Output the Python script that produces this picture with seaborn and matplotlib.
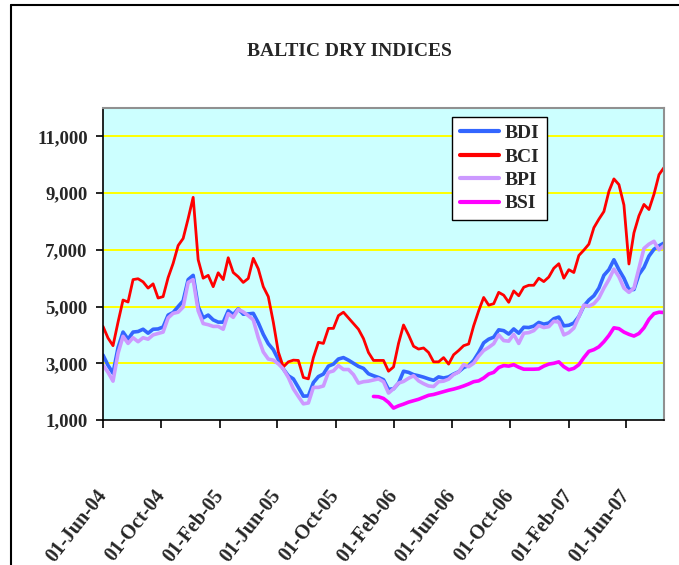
import numpy as np
import pandas as pd
import seaborn as sns
import matplotlib.pyplot as plt
import matplotlib.dates as mdates
from matplotlib.lines import Line2D
from matplotlib.ticker import StrMethodFormatter

sns.set_theme(style="ticks")
plt.rcParams['font.family'] = ['Liberation Serif', 'DejaVu Serif']
plt.rcParams['font.weight'] = 'bold'

# sample dates, roughly every 10.5 days from Jun 2004 to mid Aug 2007
dates = pd.date_range("2004-06-01", "2007-08-19", periods=113)

bdi = [3290, 2930, 2650, 3550, 4100, 3850, 4100, 4120, 4200, 4060,
       4200, 4210, 4280, 4700, 4790, 5000, 5200, 5950, 6100, 5000,
       4600, 4700, 4530, 4450, 4450, 4850, 4720, 4920, 4730, 4740,
       4760, 4430, 4020, 3690, 3480, 3130, 2800, 2560, 2450, 2150,
       1840, 1850, 2320, 2530, 2620, 2900, 2970, 3150, 3200, 3110,
       3000, 2890, 2820, 2630, 2560, 2500, 2420, 2080, 2100, 2300,
       2720, 2680, 2600, 2560, 2510, 2450, 2400, 2520, 2480, 2520,
       2620, 2700, 2850, 2920, 3100, 3380, 3720, 3850, 3920, 4180,
       4150, 4030, 4210, 4060, 4270, 4260, 4310, 4440, 4380, 4420,
       4570, 4630, 4320, 4340, 4420, 4650, 5020, 5230, 5380, 5650,
       6100, 6300, 6650, 6300, 6000, 5600, 5600, 6130, 6380, 6780,
       7020, 7140, 7240]

bci = [4300, 3890, 3620, 4450, 5230, 5160, 5950, 5980, 5870, 5650,
       5800, 5300, 5350, 6020, 6520, 7150, 7400, 8100, 8850, 6650,
       6000, 6100, 5700, 6190, 5950, 6720, 6200, 6050, 5850, 5990,
       6700, 6330, 5700, 5350, 4450, 3400, 2870, 3050, 3110, 3100,
       2500, 2450, 3200, 3740, 3700, 4230, 4230, 4680, 4800, 4600,
       4400, 4200, 3870, 3380, 3100, 3100, 3100, 2720, 2870, 3700,
       4350, 4000, 3600, 3500, 3540, 3380, 3050, 3050, 3200, 2970,
       3300, 3450, 3620, 3680, 4320, 4850, 5320, 5050, 5100, 5500,
       5400, 5150, 5550, 5380, 5680, 5750, 5750, 6000, 5880, 6040,
       6350, 6510, 6000, 6300, 6200, 6800, 6990, 7200, 7780, 8080,
       8350, 9060, 9500, 9300, 8580, 6500, 7600, 8200, 8600, 8420,
       8960, 9650, 9900]

bpi = [2940, 2680, 2370, 3350, 3950, 3700, 3900, 3760, 3900, 3850,
       4000, 4050, 4100, 4600, 4760, 4800, 4980, 5850, 5950, 4850,
       4400, 4360, 4300, 4300, 4200, 4750, 4620, 4900, 4810, 4680,
       4530, 3900, 3400, 3150, 3110, 2980, 2800, 2500, 2100, 1830,
       1570, 1600, 2150, 2150, 2200, 2680, 2730, 2920, 2780, 2780,
       2600, 2300, 2350, 2370, 2410, 2450, 2350, 1950, 2100, 2300,
       2360, 2470, 2560, 2380, 2280, 2200, 2180, 2350, 2370, 2440,
       2600, 2690, 2960, 2880, 3000, 3250, 3450, 3560, 3690, 4000,
       3800, 3780, 4020, 3700, 4060, 4080, 4150, 4330, 4260, 4290,
       4480, 4450, 4000, 4080, 4240, 4640, 5050, 5010, 5100, 5300,
       5650, 5950, 6320, 6050, 5650, 5500, 5650, 6350, 7050, 7200,
       7300, 7000, 7150]

# BSI only published from mid 2005
bsi = [np.nan] * 54 + [
    1830, 1820, 1760, 1620, 1420, 1500,
    1560, 1630, 1680, 1730, 1800, 1870, 1900, 1950, 2000, 2050,
    2090, 2140, 2200, 2270, 2350, 2380, 2480, 2620, 2680, 2850,
    2920, 2900, 2950, 2860, 2790, 2790, 2790, 2800, 2900, 2970,
    3000, 3050, 2880, 2770, 2820, 2950, 3200, 3420, 3480, 3580,
    3760, 3980, 4250, 4220, 4100, 4020, 3960, 4050, 4250, 4550,
    4750, 4800, 4790]

df = pd.DataFrame({'date': dates, 'BDI': bdi, 'BCI': bci, 'BPI': bpi, 'BSI': bsi})

series = [('BDI', '#3366FF', 2.6), ('BCI', '#FF0000', 2.0),
          ('BPI', '#CC99FF', 2.6), ('BSI', '#FF00FF', 2.6)]

fig = plt.figure(figsize=(6.79, 5.65), dpi=100)
ax = fig.add_axes([103/679, 145/565, 561/679, 312/565])
ax.set_facecolor('#CCFFFF')

for name, col, lw in series:
    sub = df[['date', name]].dropna()
    sns.lineplot(data=sub, x='date', y=name, color=col, linewidth=lw, label=name, ax=ax)

ax.set_ylim(1000, 12000)
ax.set_yticks(range(1000, 12000, 2000))
ax.yaxis.set_major_formatter(StrMethodFormatter('{x:,.0f}'))
for v in range(3000, 12000, 2000):
    ax.axhline(v, color='#FFFF00', lw=1.4, zorder=0.5)

ax.set_xlim(pd.Timestamp('2004-06-01'), pd.Timestamp('2007-08-19'))
ax.xaxis.set_major_locator(mdates.MonthLocator(bymonth=(2, 6, 10), bymonthday=1))
ax.xaxis.set_major_formatter(mdates.DateFormatter('%d-%b-%y'))
ax.set_xlabel('')
ax.set_ylabel('')

ax.tick_params(axis='y', direction='out', length=5, width=1.2, color='black',
               labelsize=13.5, pad=6)
ax.tick_params(axis='x', direction='out', length=6, width=1.2, color='black',
               labelsize=14.5, pad=46)
for lab in ax.get_xticklabels():
    lab.set_rotation(52)
    lab.set_ha('right')
    lab.set_va('center')
    lab.set_rotation_mode('anchor')
    lab.set_fontweight('bold')
for lab in ax.get_yticklabels():
    lab.set_fontweight('bold')

for s in ['top', 'right']:
    ax.spines[s].set_color('#909090')
    ax.spines[s].set_linewidth(1.5)
for s in ['left', 'bottom']:
    ax.spines[s].set_color('black')
    ax.spines[s].set_linewidth(1.2)

leg = ax.legend(loc='upper left', bbox_to_anchor=(0.622, 0.972), frameon=True,
                fancybox=False, edgecolor='black', framealpha=1, facecolor='white',
                prop={'family': 'Liberation Serif', 'weight': 'bold', 'size': 14},
                handlelength=2.0, handletextpad=0.3, labelspacing=0.3,
                borderpad=0.4, borderaxespad=0)
leg.get_frame().set_linewidth(1.0)
for h in leg.get_lines():
    h.set_linewidth(3)

fig.text(349/679, 1 - 51/565, 'BALTIC DRY INDICES', ha='center', va='center',
         fontsize=14, fontweight='bold', family='Liberation Serif')

# outer chart frame
fig.add_artist(Line2D([11/679, 11/679], [0, 1 - 5/565], transform=fig.transFigure,
                      color='black', lw=1.5))
fig.add_artist(Line2D([11/679, 1], [1 - 5/565, 1 - 5/565], transform=fig.transFigure,
                      color='black', lw=1.5))

fig.savefig('out.png', dpi=100)
